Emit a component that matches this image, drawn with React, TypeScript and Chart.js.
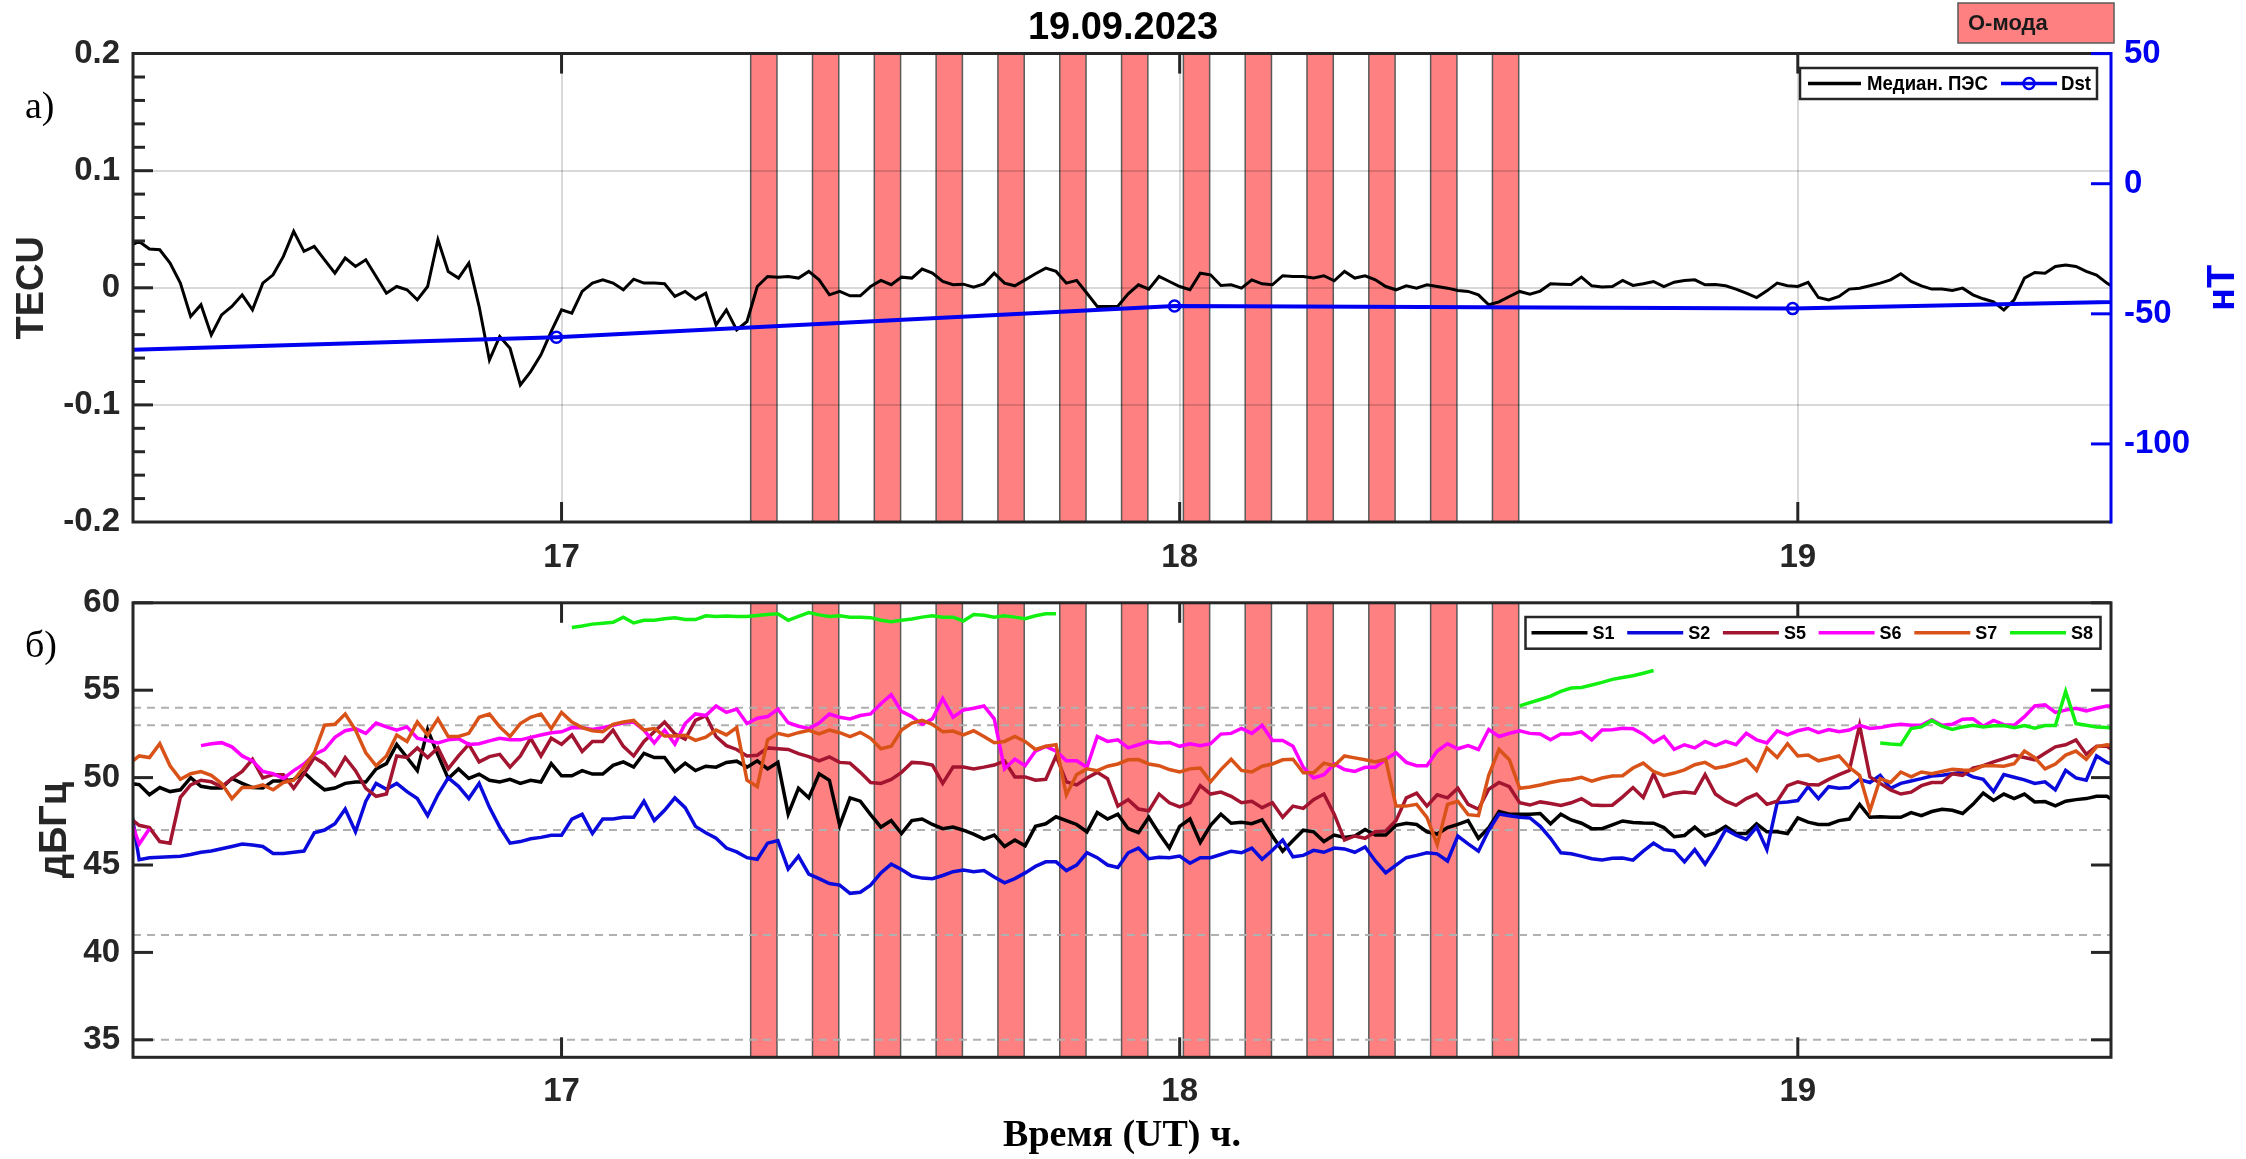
import React, { useEffect, useRef } from 'react';
import { Chart, registerables } from 'chart.js';

Chart.register(...registerables);

// ---------------- data ----------------
// one sample per minute, first sample at 16:18 UT
const FIRST_SAMPLE_MIN = 16 * 60 + 18;
const SAMPLE_COUNT = 194;
const TIMES_H = Array.from({ length: SAMPLE_COUNT }, (_, k) => (FIRST_SAMPLE_MIN + k) / 60);

const X_MIN = 16.3067;
const X_MAX = 19.5067;
const HOUR_TICKS = [17, 18, 19];
const TECU_TICKS = [-0.2, -0.1, 0, 0.1, 0.2];
const DST_TICKS = [-100, -50, 0, 50];
const DB_TICKS = [35, 40, 45, 50, 55, 60];
const DB_REF_LEVELS = [54, 53, 47, 41, 35];

// O-mode heating intervals (start, decimal hours UT)
const O_MODE_STARTS = [17.306, 17.406, 17.506, 17.606, 17.706, 17.806, 17.906, 18.006, 18.106, 18.206, 18.306, 18.406, 18.506];
const O_MODE_DURATION_H = 0.0425;

// Dst index (hourly)
const DST_TIMES = [15.9917, 16.9917, 17.9917, 18.9917, 19.9917];
const DST_NT = [-66, -59, -47, -48, -43];

// median TEC variation, TECU
const TEC_MEDIAN = [
  0.0353, 0.0396, 0.0331, 0.0325, 0.0211, 0.004, -0.0245, -0.0145, -0.0402, -0.0231,
  -0.016, -0.006, -0.0188, 0.004, 0.0111, 0.0268, 0.0482, 0.0311, 0.0353, 0.0239,
  0.0125, 0.0254, 0.0182, 0.0239, 0.0097, -0.0046, 0.0011, -0.0017, -0.0103, 0.0011,
  0.041, 0.014, 0.0083, 0.0211, -0.016, -0.0616, -0.0416, -0.0516, -0.083, -0.0716,
  -0.0573, -0.0373, -0.0188, -0.0217, -0.0031, 0.004, 0.0068, 0.004, -0.0017, 0.0074,
  0.004, 0.004, 0.0034, -0.0074, -0.0031, -0.0097, -0.0046, -0.0316, -0.0188, -0.0359,
  -0.0288, 0.0011, 0.0097, 0.0091, 0.0097, 0.0083, 0.014, 0.0068, -0.006, -0.0031,
  -0.0068, -0.0068, 0.0011, 0.0063, 0.0026, 0.0091, 0.0083, 0.016, 0.0125, 0.0054,
  0.0026, 0.0031, 0.0006, 0.0034, 0.0125, 0.004, 0.0017, 0.0068, 0.012, 0.0168,
  0.014, 0.004, 0.0063, -0.0046, -0.016, -0.016, -0.0157, -0.0051, 0.0026, -0.0011,
  0.0097, 0.0054, 0.0011, -0.0017, 0.0125, 0.0111, 0.002, 0.0026, -0.0003, 0.0068,
  0.0034, 0.0026, 0.0103, 0.0097, 0.0097, 0.0083, 0.0103, 0.006, 0.014, 0.0083,
  0.0103, 0.0068, 0.0011, -0.0017, 0.0017, -0.0003, 0.0026, 0.0011, -0.0003, -0.0023,
  -0.0031, -0.006, -0.0145, -0.012, -0.0074, -0.0031, -0.0054, -0.0028, 0.0034, 0.0031,
  0.0028, 0.0091, 0.0017, 0.0006, 0.0011, 0.0063, 0.002, 0.0034, 0.0054, 0.0011,
  0.0048, 0.0063, 0.0068, 0.0026, 0.0028, 0.0017, -0.0011, -0.0046, -0.0083, -0.0026,
  0.004, 0.0017, 0.0011, 0.0046, -0.0083, -0.0103, -0.0074, -0.0011, -0.0003, 0.0017,
  0.004, 0.0068, 0.012, 0.0054, 0.0017, -0.0011, -0.0011, -0.0023, -0.0003, -0.006,
  -0.0094, -0.012, -0.019, -0.0103, 0.0083, 0.0131, 0.0125, 0.0182, 0.0194, 0.0182,
  0.014, 0.0108, 0.004, -0.0017,
];

// signal-to-noise, dB-Hz
const S1 = [
  49.67, 49.6, 49.02, 49.43, 49.2, 49.3, 50.0, 49.5, 49.4, 49.4,
  49.95, 49.67, 49.43, 49.4, 49.8, 49.8, 49.9, 50.3, 49.75, 49.3,
  49.4, 49.67, 49.75, 49.75, 50.5, 50.8, 51.9, 51.15, 50.4, 52.75,
  51.3, 49.95, 50.5, 49.95, 50.2, 49.85, 49.75, 49.9, 49.67, 49.85,
  49.75, 50.8, 50.1, 50.1, 50.4, 50.2, 50.2, 50.7, 50.9, 50.6,
  51.39, 51.15, 51.15, 50.35, 50.83, 50.4, 50.65, 50.6, 50.87, 50.94,
  50.6, 50.96, 50.5, 50.87, 47.91, 49.39, 48.84, 50.22, 49.85, 47.27,
  48.84, 48.65, 47.88, 47.17, 47.54, 46.8, 47.54, 47.63, 47.32, 47.08,
  47.17, 46.99, 46.77, 46.48, 46.71, 46.06, 46.43, 46.1, 47.21, 47.36,
  47.76, 47.54, 47.32, 46.9, 48.0, 47.63, 47.91, 47.08, 46.85, 47.73,
  46.8, 45.97, 47.21, 47.63, 46.29, 47.27, 47.91, 47.39, 47.45, 47.36,
  47.58, 46.66, 45.79, 46.4, 46.99, 46.9, 46.34, 46.71, 46.58, 46.66,
  47.03, 46.71, 46.71, 47.27, 47.39, 47.32, 46.9, 46.77, 47.14, 47.32,
  47.54, 46.53, 47.14, 48.06, 47.91, 47.91, 47.91, 47.95, 47.36, 47.91,
  47.58, 47.39, 47.08, 47.08, 47.3, 47.52, 47.43, 47.4, 47.39, 47.14,
  46.62, 46.69, 47.17, 46.66, 46.84, 47.21, 46.8, 46.8, 47.36, 46.9,
  46.9, 46.8, 47.69, 47.45, 47.32, 47.32, 47.54, 47.63, 48.47, 47.73,
  47.76, 47.73, 47.73, 48.0, 47.82, 48.06, 48.19, 48.13, 47.95, 48.47,
  49.11, 48.69, 49.06, 48.8, 49.06, 48.61, 48.63, 48.39, 48.65, 48.74,
  48.8, 48.93, 48.93, 48.56,
];

const S2 = [
  49.0, 45.3, 45.42, 45.45, 45.47, 45.5, 45.6, 45.73, 45.8, 45.93,
  46.06, 46.2, 46.14, 46.06, 45.66, 45.66, 45.73, 45.8, 46.84, 47.0,
  47.36, 48.2, 46.9, 48.65, 49.67, 49.33, 49.67, 49.2, 48.8, 47.82,
  49.02, 49.98, 49.5, 48.8, 49.67, 48.3, 47.17, 46.25, 46.34, 46.5,
  46.58, 46.7, 46.7, 47.63, 47.9, 46.8, 47.63, 47.63, 47.73, 47.73,
  48.65, 47.54, 48.13, 48.84, 48.28, 47.21, 46.84, 46.53, 45.97, 45.75,
  45.42, 45.33, 46.25, 46.4, 44.77, 45.51, 44.48, 44.22, 43.94, 43.85,
  43.38, 43.44, 43.85, 44.55, 45.05, 44.74, 44.37, 44.25, 44.22, 44.4,
  44.62, 44.72, 44.62, 44.68, 44.31, 43.98, 44.22, 44.55, 44.92, 45.18,
  45.18, 44.68, 45.0, 45.7, 45.42, 45.0, 44.86, 45.7, 45.97, 45.36,
  45.45, 45.42, 45.51, 45.1, 45.42, 45.42, 45.6, 45.79, 45.7, 45.97,
  45.33, 45.84, 46.43, 45.47, 45.55, 45.84, 45.73, 45.97, 45.92, 45.73,
  46.03, 45.23, 44.55, 44.99, 45.42, 45.55, 45.7, 45.64, 45.23, 46.66,
  46.21, 45.79, 46.99, 47.91, 47.82, 47.73, 47.69, 47.21, 46.53, 45.7,
  45.64, 45.51, 45.36, 45.29, 45.38, 45.4, 45.28, 45.79, 46.25, 45.88,
  45.82, 45.18, 45.88, 45.05, 45.97, 47.03, 46.71, 46.47, 47.17, 45.88,
  48.56, 48.61, 48.69, 49.48, 48.8, 49.48, 49.39, 49.43, 49.9, 49.72,
  50.13, 49.39, 49.67, 49.81, 49.94, 50.09, 50.13, 50.22, 50.32, 50.04,
  49.9, 49.2, 50.17, 50.02, 49.87, 49.67, 49.76, 49.3, 50.41, 49.98,
  49.85, 51.24, 50.87, 50.68,
];

const S5 = [
  47.73, 47.27, 47.14, 46.34, 46.25, 48.87, 49.58, 49.85, 49.76, 49.48,
  49.94, 50.35, 51.05, 49.98, 50.17, 50.17, 49.39, 50.22, 51.15, 50.78,
  50.13, 51.15, 50.4, 49.39, 48.93, 49.06, 51.24, 51.15, 51.7, 51.15,
  51.7, 50.5, 51.24, 51.9, 50.9, 51.2, 51.33, 50.6, 51.24, 52.25,
  51.24, 52.25, 51.9, 52.44, 51.5, 52.07, 52.07, 52.72, 51.79, 51.24,
  52.07, 52.62, 53.18, 52.5, 52.2, 53.27, 53.55, 52.35, 51.83, 51.61,
  51.24, 51.28, 51.7, 51.65, 51.61, 51.37, 51.2, 50.96, 51.18, 50.87,
  50.83, 50.3, 49.72, 49.67, 49.9, 50.3, 50.87, 50.83, 50.72, 49.67,
  50.6, 50.6, 50.5, 50.6, 50.72, 50.96, 50.04, 50.04, 49.85, 49.9,
  51.24, 49.76, 49.58, 49.98, 50.3, 49.94, 48.37, 48.74, 48.2, 48.1,
  49.06, 48.56, 48.32, 48.56, 49.54, 49.06, 49.17, 48.93, 48.56, 48.65,
  48.28, 48.56, 47.73, 48.37, 48.24, 48.74, 49.06, 47.91, 46.43, 46.66,
  46.53, 46.9, 46.95, 47.54, 48.84, 49.11, 48.37, 49.02, 48.84, 49.39,
  48.47, 48.19, 49.33, 49.72, 49.48, 48.56, 48.43, 48.61, 48.52, 48.41,
  48.56, 48.8, 48.43, 48.41, 48.42, 48.9, 49.43, 48.86, 50.22, 48.93,
  49.11, 49.17, 49.11, 50.17, 49.06, 48.65, 48.41, 48.8, 49.06, 48.47,
  48.65, 49.54, 49.76, 49.61, 49.58, 49.9, 50.17, 50.41, 52.99, 50.04,
  49.67, 49.3, 49.06, 49.17, 49.54, 49.72, 49.72, 50.22, 50.13, 50.54,
  50.68, 50.9, 51.09, 51.28, 51.15, 51.02, 51.39, 51.76, 51.88, 52.16,
  51.33, 51.79, 51.79, 51.42,
];

const S6 = [
  47.9, 46.2, 47.08, null, null, null, null, 51.83, 51.94, 52.0,
  51.76, 51.24, 50.96, 50.35, 50.22, 49.95, 50.4, 50.78, 51.33, 51.6,
  52.3, 52.68, 52.8, 52.53, 53.12, 52.9, 52.72, 52.9, 52.25, 52.12,
  51.98, 52.16, 52.22, 51.9, 51.94, 52.1, 52.25, 52.16, 52.16, 52.3,
  52.44, 52.57, 52.62, 52.86, 52.85, 52.75, 52.86, 53.0, 53.12, 53.18,
  52.72, 51.98, 52.72, 51.92, 53.09, 53.64, 53.55, 54.1, 53.73, 53.92,
  53.09, 53.4, 53.49, 53.92, 53.14, 52.94, 52.81, 53.12, 53.64, 53.45,
  53.36, 53.55, 53.64, 54.23, 54.75, 53.79, 53.49, 53.05, 53.36, 54.53,
  53.45, 53.86, 53.97, 54.1, 53.36, 50.5, 51.05, 50.68, 51.52, 51.79,
  51.52, 50.96, 50.96, 50.59, 52.35, 52.07, 52.16, 51.7, 51.88, 52.07,
  51.98, 52.01, 51.79, 51.94, 51.83, 51.94, 52.49, 52.53, 52.81, 52.53,
  52.99, 52.12, 52.12, 51.79, 50.59, 49.98, 50.17, 50.78, 50.46, 50.35,
  50.59, 50.59, 51.05, 51.42, 50.87, 50.68, 50.68, 51.52, 51.94, 51.65,
  51.83, 51.61, 52.75, 52.35, 52.53, 52.68, 52.53, 52.49, 52.16, 52.49,
  52.49, 52.62, 52.16, 52.72, 52.74, 52.82, 52.8, 52.48, 52.01, 52.35,
  51.61, 51.88, 51.7, 52.07, 51.83, 52.07, 51.88, 52.53, 52.16, 51.98,
  52.68, 52.44, 52.68, 52.81, 52.57, 52.75, 52.62, 52.72, 52.99, 52.81,
  52.86, 52.98, 53.05, 52.99, 53.01, 53.31, 52.99, 53.05, 53.34, 53.36,
  52.94, 53.27, 53.03, 52.99, 53.49, 54.1, 54.16, 53.73, 53.86, 53.97,
  53.82, 53.97, 54.1, 54.1,
];

const S7 = [
  50.78, 51.24, 51.15, 51.94, 50.68, 49.9, 50.22, 50.35, 50.13, 49.67,
  48.8, 49.43, 49.43, 49.58, 49.3, 49.72, 49.85, 50.6, 51.42, 53.0,
  53.05, 53.64, 52.72, 51.42, 50.68, 51.24, 52.44, 52.07, 53.18, 52.44,
  53.36, 52.35, 52.35, 52.53, 53.45, 53.64, 52.9, 52.35, 53.09, 53.45,
  53.64, 52.8, 53.73, 53.18, 52.86, 52.68, 52.62, 53.05, 53.18, 53.27,
  52.72, 52.81, 52.38, 52.38, 52.42, 52.13, 52.31, 52.72, 52.44, 52.86,
  49.85, 49.48, 52.16, 52.53, 52.4, 52.57, 52.7, 52.5, 52.72, 52.57,
  52.35, 52.59, 52.25, 51.65, 51.79, 52.72, 53.12, 53.27, 53.05, 52.62,
  52.66, 52.44, 52.68, 52.35, 52.0, 52.07, 52.35, 52.07, 51.61, 51.79,
  51.88, 49.02, 50.17, 50.5, 50.4, 50.65, 50.78, 51.02, 51.03, 50.78,
  50.68, 50.46, 50.32, 50.5, 50.55, 49.76, 50.46, 51.05, 50.41, 50.32,
  50.65, 50.78, 51.02, 51.05, 50.28, 50.28, 50.83, 50.68, 51.24, 51.13,
  51.02, 50.9, 51.05, 48.37, 48.37, 48.47, 47.73, 46.16, 48.47, 48.65,
  47.88, 47.82, 50.13, 51.61, 51.02, 49.39, 49.46, 49.58, 49.72, 49.83,
  49.89, 50.02, 49.8, 49.98, 50.09, 50.11, 50.55, 50.83, 50.35, 50.13,
  50.26, 50.44, 50.74, 50.87, 50.54, 50.65, 50.83, 51.05, 50.41, 51.7,
  51.15, 51.94, 51.24, 51.29, 50.96, 51.09, 51.24, 50.59, 50.13, 48.1,
  49.94, 49.72, 50.32, 50.04, 50.32, 50.22, 50.35, 50.48, 50.43, 50.41,
  50.68, 50.68, 50.65, 50.79, 51.52, 51.15, 50.5, 50.78, 51.29, 51.52,
  51.05, 51.76, 51.88, 51.79,
];

// S8 is tracked only in three pieces
const S8_PART1 = [
  58.59, 58.67, 58.78, 58.83, 58.89, 59.18, 58.85, 59.0, 59.0, 59.09,
  59.15, 59.04, 59.04, 59.26, 59.22, 59.24, 59.22, 59.22, 59.28, 59.33,
  59.37, 59.0, 59.22, 59.44, 59.31, 59.22, 59.26, 59.18, 59.18, 59.15,
  59.0, 58.91, 59.0, 59.07, 59.18, 59.26, 59.18, 59.18, 58.96, 59.33,
  59.29, 59.18, 59.26, 59.18, 59.09, 59.26, 59.37, 59.37,
];
const S8_PART2 = [54.1, 54.29, 54.47, 54.66, 54.93, 55.12, 55.16, 55.3, 55.45, 55.62, 55.73, 55.83, 55.97, 56.13];
const S8_PART3 = [
  51.98, 51.92, 51.88, 52.81, 52.9, 53.27, 52.94, 52.75, 52.9, 53.0,
  52.9, 52.96, 52.98, 52.86, 52.98, 52.83, 52.98, 52.98, 54.93, 53.09,
  53.0, 52.9, 52.86, 52.81,
];
const noData = (n: number) => new Array(n).fill(null);
const S8 = [...noData(43), ...S8_PART1, ...noData(44), ...S8_PART2, ...noData(21), ...S8_PART3];

const SNR_SERIES = [
  { label: 'S1', values: S1, color: '#000000' },
  { label: 'S2', values: S2, color: '#0A0ADC' },
  { label: 'S5', values: S5, color: '#A2142F' },
  { label: 'S6', values: S6, color: '#FF00FF' },
  { label: 'S7', values: S7, color: '#D95319' },
  { label: 'S8', values: S8, color: '#12F012' },
];

// ---------------- styles ----------------
const SANS = '"Liberation Sans", Arial, Helvetica, sans-serif';
const SERIF = '"Liberation Serif", "Times New Roman", serif';
const AX = '#262626';
const DST_BLUE = '#0000F0';
const BAR_FILL = '#FF8080';
const BAR_EDGE = '#5a5a5a';
const TICK_FONT = { family: SANS, size: 33, weight: 'bold' as const };
const TITLE_FONT = { family: SANS, size: 38, weight: 'bold' as const };
const MAJOR = 20;
const MINOR = 12;

Chart.defaults.font.family = SANS;

const pts = (xs: number[], ys: (number | null)[]) => xs.map((x, i) => ({ x, y: ys[i] }));
const fixTicks = (values: number[]) => (s: any) => {
  s.ticks = values.map((v) => ({ value: v }));
};

function seg(ctx: CanvasRenderingContext2D, x1: number, y1: number, x2: number, y2: number) {
  ctx.beginPath();
  ctx.moveTo(x1, y1);
  ctx.lineTo(x2, y2);
  ctx.stroke();
}

function drawModeBars(chart: any) {
  const { ctx, chartArea: a } = chart;
  const xs = chart.scales.x;
  ctx.save();
  for (const s of O_MODE_STARTS) {
    const x1 = xs.getPixelForValue(s);
    const x2 = xs.getPixelForValue(s + O_MODE_DURATION_H);
    ctx.fillStyle = BAR_FILL;
    ctx.fillRect(x1, a.top, x2 - x1, a.bottom - a.top);
    ctx.strokeStyle = BAR_EDGE;
    ctx.lineWidth = 1.5;
    seg(ctx, x1, a.top, x1, a.bottom);
    seg(ctx, x2, a.top, x2, a.bottom);
  }
  ctx.restore();
}

function drawHourTicks(chart: any) {
  const { ctx, chartArea: a } = chart;
  const xs = chart.scales.x;
  ctx.lineWidth = 3;
  ctx.strokeStyle = AX;
  for (const h of HOUR_TICKS) {
    const px = xs.getPixelForValue(h);
    seg(ctx, px, a.top, px, a.top + MAJOR);
    seg(ctx, px, a.bottom - MAJOR, px, a.bottom);
  }
}

const topDecor = {
  id: 'topDecor',
  beforeDraw(chart: any) {
    drawModeBars(chart);
  },
  afterDatasetsDraw(chart: any) {
    const { ctx, chartArea: a } = chart;
    const y = chart.scales.y;
    const yd = chart.scales.yDst;
    ctx.save();
    drawHourTicks(chart);
    for (let i = -9; i <= 9; i++) {
      const py = y.getPixelForValue(i * 0.02);
      seg(ctx, a.left, py, a.left + (i % 5 === 0 ? MAJOR : MINOR), py);
    }
    ctx.lineJoin = 'miter';
    ctx.beginPath();
    ctx.moveTo(a.right, a.top);
    ctx.lineTo(a.left, a.top);
    ctx.lineTo(a.left, a.bottom);
    ctx.lineTo(a.right, a.bottom);
    ctx.stroke();
    ctx.strokeStyle = DST_BLUE;
    seg(ctx, a.right, a.top - 1.5, a.right, a.bottom + 1.5);
    for (const v of DST_TICKS) {
      const py = yd.getPixelForValue(v);
      seg(ctx, a.right - MAJOR, py, a.right, py);
    }
    ctx.restore();
  },
  afterDraw(chart: any) {
    const { ctx, chartArea: a } = chart;
    ctx.save();
    // legend
    const bx = a.right - 311;
    const by = a.top + 14.4;
    const bw = 297;
    const bh = 31;
    ctx.fillStyle = '#fff';
    ctx.fillRect(bx, by, bw, bh);
    ctx.lineWidth = 2.5;
    ctx.strokeStyle = AX;
    ctx.strokeRect(bx, by, bw, bh);
    const cy = by + bh / 2;
    ctx.lineWidth = 3.5;
    ctx.strokeStyle = '#000';
    seg(ctx, bx + 8, cy, bx + 61, cy);
    ctx.font = `bold 21px ${SANS}`;
    ctx.fillStyle = '#000';
    ctx.textBaseline = 'middle';
    ctx.textAlign = 'left';
    ctx.fillText('Медиан. ПЭС', bx + 67, cy + 1, 121);
    ctx.strokeStyle = DST_BLUE;
    ctx.lineWidth = 3.5;
    seg(ctx, bx + 201, cy, bx + 257, cy);
    ctx.lineWidth = 2.5;
    ctx.beginPath();
    ctx.arc(bx + 229, cy, 5.5, 0, Math.PI * 2);
    ctx.stroke();
    ctx.fillText('Dst', bx + 261, cy + 1, 30);

    // O-mode key
    ctx.fillStyle = BAR_FILL;
    ctx.fillRect(a.right - 153, 3, 156, 40);
    ctx.strokeStyle = BAR_EDGE;
    ctx.lineWidth = 1.5;
    ctx.strokeRect(a.right - 153, 3, 156, 40);
    ctx.fillStyle = '#1a1a1a';
    ctx.font = `bold 22px ${SANS}`;
    ctx.fillText('О-мода', a.right - 143, 24);

    // panel letter
    ctx.font = `38px ${SERIF}`;
    ctx.textBaseline = 'alphabetic';
    ctx.fillStyle = '#000';
    ctx.fillText('а)', 25, 118);

    // right axis title
    ctx.translate(a.right + 113, (a.top + a.bottom) / 2);
    ctx.rotate(-Math.PI / 2);
    ctx.font = `bold 38px ${SANS}`;
    ctx.fillStyle = DST_BLUE;
    ctx.textAlign = 'center';
    ctx.textBaseline = 'middle';
    ctx.fillText('нТ', 0, 0);
    ctx.restore();
  },
};

const bottomDecor = {
  id: 'bottomDecor',
  beforeDraw(chart: any) {
    drawModeBars(chart);
  },
  beforeDatasetsDraw(chart: any) {
    const { ctx, chartArea: a } = chart;
    const y = chart.scales.y;
    ctx.save();
    ctx.strokeStyle = '#b0b0b0';
    ctx.lineWidth = 2;
    ctx.setLineDash([8, 6]);
    for (const v of DB_REF_LEVELS) {
      const py = y.getPixelForValue(v);
      seg(ctx, a.left, py, a.right, py);
    }
    ctx.restore();
  },
  afterDatasetsDraw(chart: any) {
    const { ctx, chartArea: a } = chart;
    const y = chart.scales.y;
    ctx.save();
    drawHourTicks(chart);
    for (const v of DB_TICKS) {
      const py = y.getPixelForValue(v);
      seg(ctx, a.left, py, a.left + MAJOR, py);
      seg(ctx, a.right - MAJOR, py, a.right, py);
    }
    ctx.lineJoin = 'miter';
    ctx.strokeRect(a.left, a.top, a.right - a.left, a.bottom - a.top);
    ctx.restore();
  },
  afterDraw(chart: any) {
    const { ctx, chartArea: a } = chart;
    ctx.save();
    const bx = a.right - 585.5;
    const by = a.top + 14.2;
    const bw = 575;
    const bh = 31.7;
    ctx.fillStyle = '#fff';
    ctx.fillRect(bx, by, bw, bh);
    ctx.lineWidth = 2.5;
    ctx.strokeStyle = AX;
    ctx.strokeRect(bx, by, bw, bh);
    const cy = by + bh / 2;
    ctx.font = `bold 19px ${SANS}`;
    ctx.textBaseline = 'middle';
    ctx.textAlign = 'left';
    SNR_SERIES.forEach((s, i) => {
      const x0 = bx + 6 + i * 95.7;
      ctx.lineWidth = 3.5;
      ctx.strokeStyle = s.color;
      seg(ctx, x0, cy, x0 + 56, cy);
      ctx.fillStyle = '#000';
      ctx.fillText(s.label, x0 + 61, cy + 1, 22);
    });
    ctx.font = `38px ${SERIF}`;
    ctx.textBaseline = 'alphabetic';
    ctx.fillStyle = '#000';
    ctx.fillText('б)', 25, 87);
    ctx.restore();
  },
};

export default function App() {
  const topRef = useRef<HTMLCanvasElement>(null);
  const botRef = useRef<HTMLCanvasElement>(null);

  useEffect(() => {
    const xCommon = (height: number, pad: number) => ({
      type: 'linear' as const,
      position: 'bottom' as const,
      min: X_MIN,
      max: X_MAX,
      afterBuildTicks: fixTicks(HOUR_TICKS),
      afterFit: (s: any) => {
        s.height = height;
      },
      ticks: {
        font: TICK_FONT,
        color: AX,
        padding: pad,
        maxRotation: 0,
        minRotation: 0,
        autoSkip: false,
        callback: (v: any) => String(v),
      },
      border: { display: false },
    });

    const top = new Chart(topRef.current as HTMLCanvasElement, {
      type: 'line',
      data: {
        datasets: [
          {
            label: 'Dst',
            data: pts(DST_TIMES, DST_NT),
            yAxisID: 'yDst',
            borderColor: DST_BLUE,
            borderWidth: 4,
            pointRadius: 5.5,
            pointBorderWidth: 2.5,
            pointBorderColor: DST_BLUE,
            pointBackgroundColor: 'rgba(0,0,0,0)',
            tension: 0,
            clip: 0,
          } as any,
          {
            label: 'Медиан. ПЭС',
            data: pts(TIMES_H, TEC_MEDIAN),
            yAxisID: 'y',
            borderColor: '#000',
            borderWidth: 3,
            pointRadius: 0,
            tension: 0,
            clip: 0,
          } as any,
        ],
      },
      options: {
        responsive: false,
        animation: false,
        devicePixelRatio: 1,
        events: [],
        layout: { padding: 0, autoPadding: false } as any,
        plugins: {
          legend: { display: false },
          tooltip: { enabled: false },
          title: {
            display: true,
            text: '19.09.2023',
            font: TITLE_FONT,
            color: '#000',
            padding: { top: 6, bottom: 2 },
          },
        },
        scales: {
          x: {
            ...xCommon(58, 16),
            grid: { color: 'rgba(0,0,0,0.15)', lineWidth: 2, drawTicks: false },
          },
          y: {
            position: 'left',
            min: -0.2,
            max: 0.2,
            afterBuildTicks: fixTicks(TECU_TICKS),
            afterFit: (s: any) => {
              s.width = 133;
            },
            ticks: { font: TICK_FONT, color: AX, padding: 13, callback: (v: any) => String(v) },
            grid: { color: 'rgba(0,0,0,0.15)', lineWidth: 2, drawTicks: false },
            border: { display: false },
            title: { display: true, text: 'TECU', font: TITLE_FONT, color: AX, padding: { top: 10, bottom: 0 } },
          },
          yDst: {
            position: 'right',
            min: -130,
            max: 50,
            afterBuildTicks: fixTicks(DST_TICKS),
            afterFit: (s: any) => {
              s.width = 135;
            },
            ticks: { font: TICK_FONT, color: DST_BLUE, padding: 13, callback: (v: any) => String(v) },
            grid: { display: false, drawTicks: false },
            border: { display: false },
          },
        },
      } as any,
      plugins: [topDecor],
    });

    const bottom = new Chart(botRef.current as HTMLCanvasElement, {
      type: 'line',
      data: {
        datasets: SNR_SERIES.map((s, i) => ({
          label: s.label,
          data: pts(TIMES_H, s.values),
          borderColor: s.color,
          borderWidth: 3.5,
          pointRadius: 0,
          tension: 0,
          spanGaps: false,
          clip: 0,
          order: SNR_SERIES.length - i,
        })) as any,
      },
      options: {
        responsive: false,
        animation: false,
        devicePixelRatio: 1,
        events: [],
        layout: { padding: { top: 18.6, right: 135, left: 0, bottom: 0 }, autoPadding: false } as any,
        plugins: {
          legend: { display: false },
          tooltip: { enabled: false },
          title: { display: false },
        },
        scales: {
          x: {
            ...xCommon(101.7, 15),
            grid: { display: false, drawTicks: false },
            title: {
              display: true,
              text: 'Время (UT) ч.',
              font: { family: SERIF, size: 38, weight: 'bold' },
              color: '#000',
              padding: { top: 0, bottom: 0 },
            },
          },
          y: {
            position: 'left',
            min: 34,
            max: 60,
            afterBuildTicks: fixTicks(DB_TICKS),
            afterFit: (s: any) => {
              s.width = 133;
            },
            ticks: { font: TICK_FONT, color: AX, padding: 13, callback: (v: any) => String(v) },
            grid: { display: false, drawTicks: false },
            border: { display: false },
            title: { display: true, text: 'дБГц', font: TITLE_FONT, color: AX, padding: { top: 33, bottom: 0 } },
          },
        },
      } as any,
      plugins: [bottomDecor],
    });

    return () => {
      top.destroy();
      bottom.destroy();
    };
  }, []);

  return (
    <div style={{ position: 'absolute', left: 0, top: 0, width: 2246, height: 1159, background: '#fff', overflow: 'hidden' }}>
      <canvas ref={topRef} width={2246} height={580} style={{ position: 'absolute', left: 0, top: 0, width: 2246, height: 580 }} />
      <canvas ref={botRef} width={2246} height={589} style={{ position: 'absolute', left: 0, top: 570, width: 2246, height: 589 }} />
    </div>
  );
}
